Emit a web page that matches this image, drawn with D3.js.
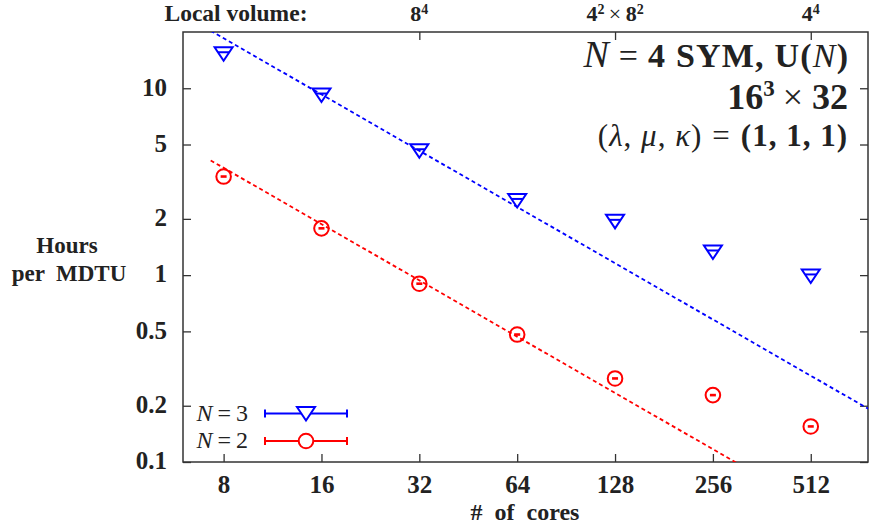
<!DOCTYPE html>
<html>
<head>
<meta charset="utf-8">
<script src="https://cdn.jsdelivr.net/npm/d3@7"></script>
<style>
  body { margin: 0; background: #fff; }
  svg text { font-family: "Liberation Serif", "Times New Roman", serif; fill: #222; }
</style>
</head>
<body>
<svg id="chart"></svg>
<script>
// data
var cores = [8, 16, 32, 64, 128, 256, 512];
var hoursN3 = [15.3, 9.2, 4.63, 2.51, 1.94, 1.33, 0.99];
var hoursN2 = [3.37, 1.78, 0.90, 0.481, 0.28, 0.228, 0.155];
// ideal-scaling guide lines, endpoints
var fitCores = [7.3, 768];
var fitN3 = [20.3, 0.193];
var fitN2 = [4.11, 0.039];
var yTicks = [0.1, 0.2, 0.5, 1, 2, 5, 10];
var topTicks = [32, 128, 512];

var w = 870, h = 531;
var pL = 183, pR = 868, pT = 32, pB = 462;

var svg = d3.select('#chart').attr('width', w).attr('height', h);

var x = d3.scaleLog().base(2).domain([6, 768]).range([pL, pR]);
var y = d3.scaleLog().domain([0.1, 20]).range([pB, pT]);

svg.append('clipPath').attr('id', 'plotclip')
  .append('rect').attr('x', pL).attr('y', pT).attr('width', pR - pL).attr('height', pB - pT);

// axes, ticks pointing inward
var gl = svg.append('g').attr('transform', 'translate(' + pL + ',0)')
  .call(d3.axisLeft(y).tickValues(yTicks).tickSize(-8).tickPadding(16).tickFormat(d3.format('')));
var gr = svg.append('g').attr('transform', 'translate(' + pR + ',0)')
  .call(d3.axisRight(y).tickValues(yTicks).tickSize(-8).tickFormat(''));
var gb = svg.append('g').attr('transform', 'translate(0,' + pB + ')')
  .call(d3.axisBottom(x).tickValues(cores).tickSize(-8).tickFormat(d3.format('d')));
var gt = svg.append('g').attr('transform', 'translate(0,' + pT + ')')
  .call(d3.axisTop(x).tickValues(topTicks).tickSize(-8).tickFormat(''));

[gl, gr, gb, gt].forEach(function (g) {
  g.select('.domain').remove();
  g.selectAll('line').attr('stroke', '#333').attr('stroke-width', 1.3);
  g.selectAll('text').style('font-family', '"Liberation Serif", serif')
    .style('font-weight', 'bold').style('font-size', '25px').attr('fill', '#222');
});
gl.selectAll('text').attr('dy', '0.27em');
gb.selectAll('text').attr('y', 31).attr('dy', 0);

svg.append('rect').attr('x', pL).attr('y', pT).attr('width', pR - pL).attr('height', pB - pT)
  .attr('fill', 'none').attr('stroke', '#333').attr('stroke-width', 1.5);

// guide lines
var line = d3.line().x(function (d) { return x(d[0]); }).y(function (d) { return y(d[1]); });
var plot = svg.append('g').attr('clip-path', 'url(#plotclip)');
plot.append('path').attr('d', line(d3.zip(fitCores, fitN3)))
  .attr('fill', 'none').attr('stroke', '#0000ff').attr('stroke-width', 1.8).attr('stroke-dasharray', '4,3');
plot.append('path').attr('d', line(d3.zip(fitCores, fitN2)))
  .attr('fill', 'none').attr('stroke', '#ff0000').attr('stroke-width', 1.8).attr('stroke-dasharray', '4,3');

function triangle(g) {
  g.append('path').attr('d', 'M-9,-6.5L9,-6.5L0,7Z')
    .attr('fill', 'none').attr('stroke', '#0000ff').attr('stroke-width', 2);
  g.append('line').attr('x1', -5.5).attr('x2', 5.5).attr('y1', -1.5).attr('y2', -1.5)
    .attr('stroke', '#0000ff').attr('stroke-width', 2);
}
function circle(g) {
  g.append('circle').attr('r', 7.3)
    .attr('fill', 'none').attr('stroke', '#ff0000').attr('stroke-width', 2);
  g.append('line').attr('x1', -3).attr('x2', 3).attr('y1', 0).attr('y2', 0)
    .attr('stroke', '#ff0000').attr('stroke-width', 2.6);
}

svg.selectAll('.n3').data(d3.zip(cores, hoursN3)).enter().append('g').attr('class', 'n3')
  .attr('transform', function (d) { return 'translate(' + x(d[0]) + ',' + y(d[1]) + ')'; })
  .each(function () { triangle(d3.select(this)); });
svg.selectAll('.n2').data(d3.zip(cores, hoursN2)).enter().append('g').attr('class', 'n2')
  .attr('transform', function (d) { return 'translate(' + x(d[0]) + ',' + y(d[1]) + ')'; })
  .each(function () { circle(d3.select(this)); });

// axis titles
var yl = svg.append('text').attr('text-anchor', 'middle').style('font-weight', 'bold').style('font-size', '23px');
yl.append('tspan').attr('x', 67).attr('y', 253).text('Hours');
yl.append('tspan').attr('x', 69).attr('y', 281).attr('xml:space', 'preserve').text('per  MDTU');
svg.append('text').attr('x', 525).attr('y', 520).attr('text-anchor', 'middle')
  .attr('xml:space', 'preserve').style('font-weight', 'bold').style('font-size', '24px').text('#  of  cores');

// top axis labels
svg.append('text').attr('x', 236).attr('y', 21).attr('text-anchor', 'middle')
  .style('font-weight', 'bold').style('font-size', '23.5px').text('Local volume:');
function topLabel(cx, parts) {
  var t = svg.append('text').attr('x', cx).attr('y', 21).attr('text-anchor', 'middle')
    .style('font-weight', 'bold').style('font-size', '22px');
  parts.forEach(function (p) {
    var s = t.append('tspan').text(p[0]);
    if (p[1] === 'sup') s.attr('dy', -7).style('font-size', '14px');
    if (p[1] === 'down') s.attr('dy', 7);
    if (p[2]) s.style('font-weight', 'normal');
  });
}
topLabel(x(32), [['8'], ['4', 'sup']]);
topLabel(x(128), [['4'], ['2', 'sup'], ['\u2009\u00d7\u2009', 'down', true], ['8'], ['2', 'sup']]);
topLabel(x(512), [['4'], ['4', 'sup']]);

// title block
var tx = 848;
var l1 = svg.append('text').attr('x', tx).attr('y', 67).attr('text-anchor', 'end').style('font-size', '34px');
l1.append('tspan').style('font-style', 'italic').style('font-size', '38px').text('N');
l1.append('tspan').attr('dx', 10).text('=');
l1.append('tspan').attr('dx', 10).style('font-weight', 'bold').style('letter-spacing', '1.2px').text('4 SYM, U(');
l1.append('tspan').style('font-style', 'italic').style('letter-spacing', '1.2px').text('N');
l1.append('tspan').style('font-weight', 'bold').text(')');
var l2 = svg.append('text').attr('x', tx).attr('y', 109).attr('text-anchor', 'end').style('font-size', '36px');
l2.append('tspan').style('font-weight', 'bold').text('16');
l2.append('tspan').attr('dy', -13).style('font-weight', 'bold').style('font-size', '23px').text('3');
l2.append('tspan').attr('dy', 13).attr('dx', 8).text('\u00d7');
l2.append('tspan').attr('dx', 9).style('font-weight', 'bold').text('32');
var l3 = svg.append('text').attr('x', tx).attr('y', 146).attr('text-anchor', 'end')
  .style('font-size', '31px').style('letter-spacing', '1px');
l3.append('tspan').text('(');
l3.append('tspan').style('font-style', 'italic').text('\u03bb');
l3.append('tspan').text(', ');
l3.append('tspan').style('font-style', 'italic').text('\u03bc');
l3.append('tspan').text(', ');
l3.append('tspan').style('font-style', 'italic').text('\u03ba');
l3.append('tspan').text(')');
l3.append('tspan').attr('dx', 10).text('=');
l3.append('tspan').attr('dx', 10).style('font-weight', 'bold').text('(1, 1, 1)');

// legend
var legend = [
  { label: '3', color: '#0000ff', y: 413.5, mark: 'tri' },
  { label: '2', color: '#ff0000', y: 441, mark: 'circ' }
];
legend.forEach(function (d) {
  var t = svg.append('text').attr('x', 248).attr('y', d.y + 7).attr('text-anchor', 'end').style('font-size', '24px');
  t.append('tspan').style('font-style', 'italic').text('N');
  t.append('tspan').attr('dx', 5).text('=');
  t.append('tspan').attr('dx', 5).text(d.label);
  var g = svg.append('g');
  g.append('line').attr('x1', 265).attr('x2', 347).attr('y1', d.y).attr('y2', d.y)
    .attr('stroke', d.color).attr('stroke-width', 2);
  [265, 347].forEach(function (cx) {
    g.append('line').attr('x1', cx).attr('x2', cx).attr('y1', d.y - 4).attr('y2', d.y + 4)
      .attr('stroke', d.color).attr('stroke-width', 2);
  });
  var m = svg.append('g').attr('transform', 'translate(306,' + d.y + ')');
  if (d.mark === 'tri') {
    m.append('path').attr('d', 'M-9,-6.5L9,-6.5L0,7Z').attr('fill', 'white')
      .attr('stroke', d.color).attr('stroke-width', 2);
  } else {
    m.append('circle').attr('r', 7.3).attr('fill', 'white').attr('stroke', d.color).attr('stroke-width', 2);
  }
});
</script>
</body>
</html>
